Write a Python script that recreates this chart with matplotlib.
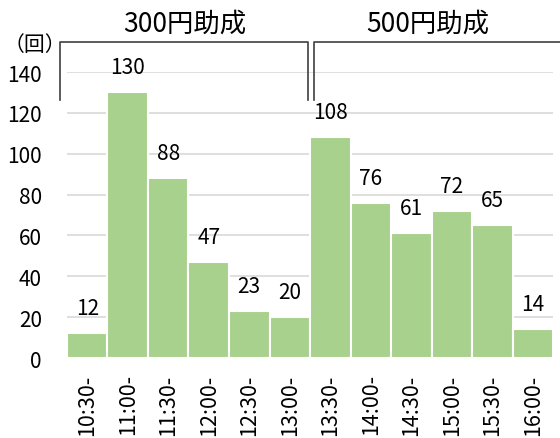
import numpy as np
import matplotlib.pyplot as plt

plt.rcParams['font.family'] = ['Noto Sans CJK JP', 'DejaVu Sans']

# データ
times = ['10:30-', '11:00-', '11:30-', '12:00-', '12:30-', '13:00-',
         '13:30-', '14:00-', '14:30-', '15:00-', '15:30-', '16:00-']
counts = [12, 130, 88, 47, 23, 20, 108, 76, 61, 72, 65, 14]
groups = ['300円助成', '500円助成']
group_ranges = [(0, 5), (6, 11)]

fig = plt.figure(figsize=(5.6, 4.39), dpi=100)
ax = fig.add_axes([0.1196, 0.1822, 0.868, 0.6515])

x = np.arange(len(counts))
ax.bar(x, counts, width=1.0, color='#a9d18e', edgecolor='white', linewidth=1.5, zorder=2)
for xi, v in zip(x, counts):
    ax.annotate(str(v), (xi, v), xytext=(0, 18), textcoords='offset points',
                ha='center', va='center', fontsize=15, color='black')

ax.set_xlim(-0.5, len(counts) - 0.5)
ax.set_ylim(0, 140)
ax.set_yticks(range(0, 141, 20))
ax.yaxis.grid(True, color='#d9d9d9', linewidth=1.2, zorder=0)
ax.set_axisbelow(True)
for s in ax.spines.values():
    s.set_visible(False)
ax.tick_params(axis='both', length=0, labelsize=15)
ax.tick_params(axis='y', pad=18)
ax.set_xticks(x)
ax.set_xticklabels(times, rotation=90, va='top', fontsize=15.5)
ax.tick_params(axis='x', pad=11)

# 括弧
ybot, ytop = 126.5, 154.5
for (a, b), name, xl, xr in zip(group_ranges, groups, [-0.66, 5.6], [5.45, 12.3]):
    ax.plot([xl, xl, xr, xr], [ybot, ytop, ytop, ybot], color='#404040',
            linewidth=1.2, clip_on=False)
    ax.text((a + b) / 2 - 0.1, 164, name, ha='center', va='center', fontsize=19,
            clip_on=False)

fig.text(0.062, 0.898, '（回）', ha='center', va='center', fontsize=15)

fig.savefig('out.png', dpi=100)
